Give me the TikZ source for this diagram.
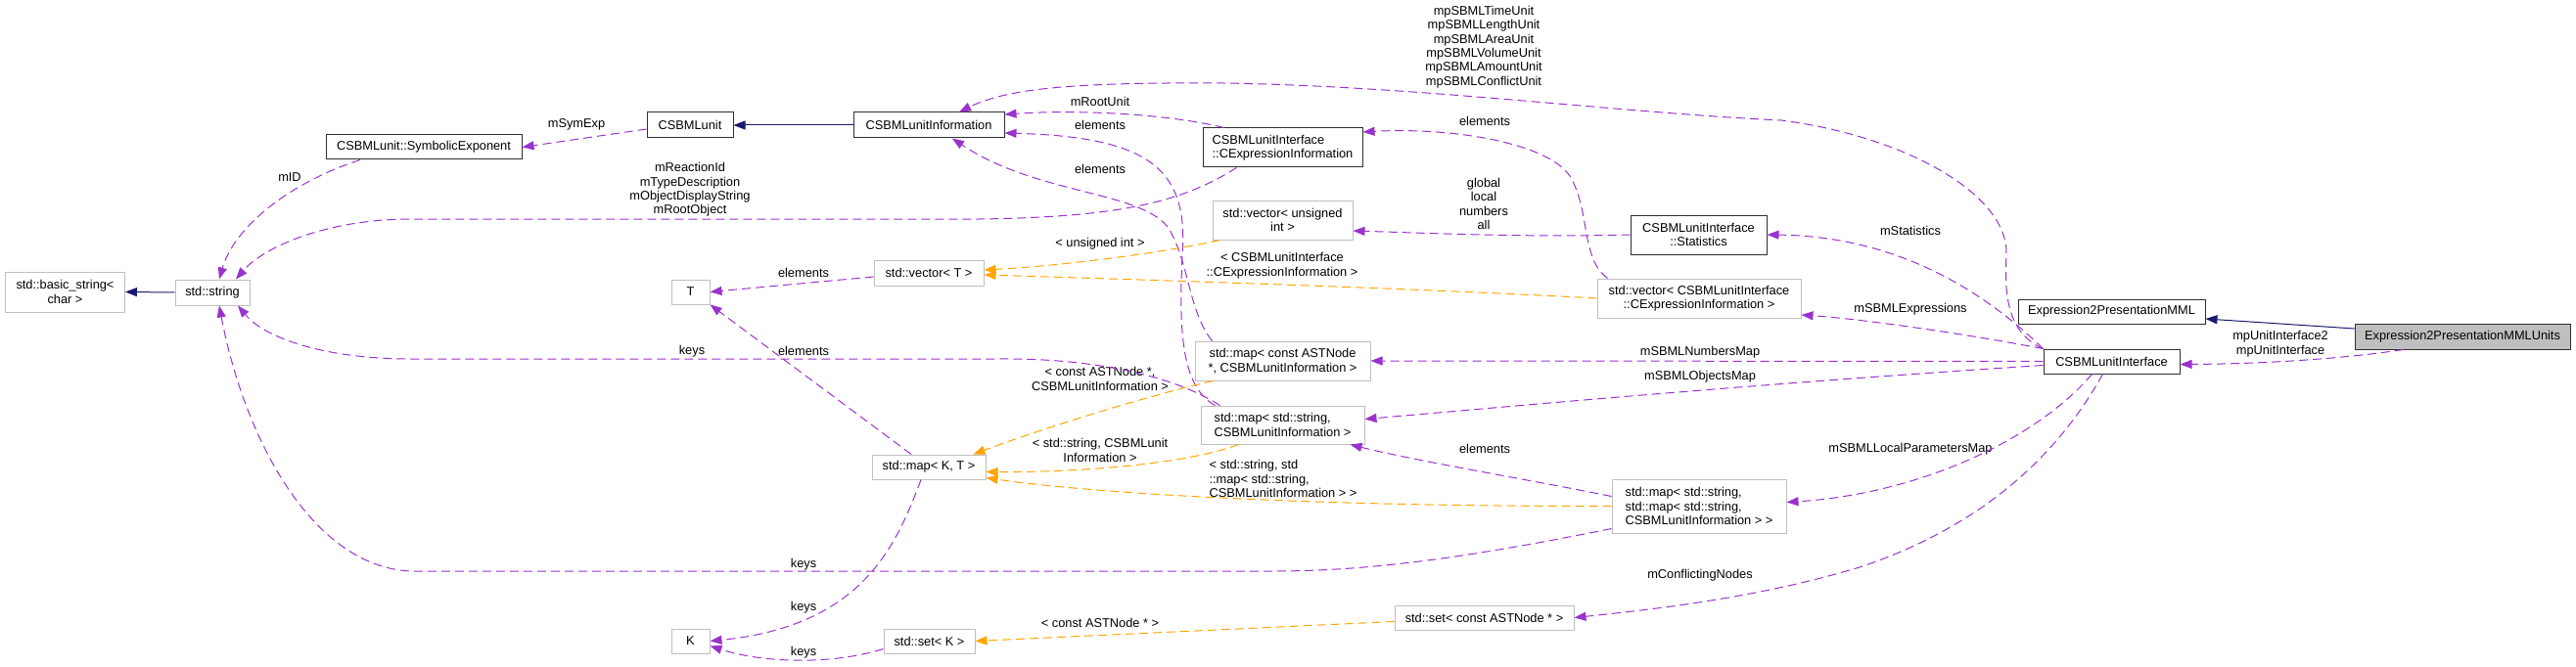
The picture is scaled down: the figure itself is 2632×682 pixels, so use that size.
\documentclass[tikz,border=0pt]{standalone}
\usepackage{fontspec}
\setmainfont{Liberation Sans}
\usepackage{tikz}
\usetikzlibrary{arrows.meta}
\usepackage{xcolor}

\definecolor{edgePurple}{HTML}{9A32CD}
\definecolor{edgeOrange}{HTML}{FFA500}
\definecolor{edgeNavy}{HTML}{191970}
\definecolor{boxGray}{HTML}{BFBFBF}
\definecolor{boxDark}{HTML}{303030}

\begin{document}
\begin{tikzpicture}[x=1pt,y=-1pt,
  myBox/.style={draw=boxDark, fill=white, line width=1pt, inner sep=0pt,
    font=\fontsize{12.8}{14.4}\selectfont, align=center},
  myTmpl/.style={myBox, draw=boxGray},
  myLabel/.style={inner sep=0pt, font=\fontsize{12.8}{14.4}\selectfont, align=center},
  myUses/.style={edgePurple, line width=1pt, dash pattern=on 9pt off 5pt,
    -{Triangle[length=12pt,width=9pt]}},
  myInst/.style={myUses, edgeOrange},
  myInherit/.style={edgeNavy, line width=1pt, -{Triangle[length=12pt,width=9pt]}}]

\useasboundingbox (0,0) rectangle (2632,682);

% classes
\node[myTmpl, minimum width=122, minimum height=41] (basicStr) at (66.5,298.5) {std::basic\_string<\\ char >};
\node[myTmpl, minimum width=76, minimum height=26] (stdStr) at (217,299) {std::string};
\node[myBox, minimum width=200, minimum height=25] (symExp) at (433,150.5) {CSBMLunit::SymbolicExponent};
\node[myBox, minimum width=88, minimum height=26] (cUnit) at (705,128) {CSBMLunit};
\node[myBox, minimum width=154, minimum height=26] (cUnitInfo) at (949,128) {CSBMLunitInformation};
\node[myBox, minimum width=163, minimum height=40, align=left] (exprInfo) at (1310.5,151) {CSBMLunitInterface\\::CExpressionInformation};
\node[myBox, minimum width=139, minimum height=40] (stats) at (1735.5,240) {CSBMLunitInterface\\::Statistics};
\node[myBox, minimum width=191, minimum height=25] (e2pMML) at (2157.5,318.5) {Expression2PresentationMML};
\node[myBox, minimum width=139, minimum height=25] (unitIface) at (2157.5,369.5) {CSBMLunitInterface};
\node[myBox, fill=boxGray, minimum width=220, minimum height=26] (e2pUnits) at (2516,344) {Expression2PresentationMMLUnits};

% templates
\node[myTmpl, minimum width=39, minimum height=25] (tT) at (705.5,298.5) {T};
\node[myTmpl, minimum width=39, minimum height=25] (kK) at (705.5,655.5) {K};
\node[myTmpl, minimum width=112, minimum height=26] (vecT) at (949,279) {std::vector< T >};
\node[myTmpl, minimum width=116, minimum height=25] (mapKT) at (949,477.5) {std::map< K, T >};
\node[myTmpl, minimum width=93, minimum height=25] (setK) at (949.5,655.5) {std::set< K >};
\node[myTmpl, minimum width=143, minimum height=40] (vecUint) at (1310.5,225) {std::vector< unsigned\\int >};
\node[myTmpl, minimum width=179, minimum height=40] (mapAst) at (1310.5,369) {std::map< const ASTNode\\*, CSBMLunitInformation >};
\node[myTmpl, minimum width=167, minimum height=39, align=left] (mapStr) at (1310.5,434.5) {std::map< std::string,\\ CSBMLunitInformation >};
\node[myTmpl, minimum width=183, minimum height=25] (setAst) at (1516.5,631.5) {std::set< const ASTNode * >};
\node[myTmpl, minimum width=208, minimum height=40] (vecExpr) at (1736,305) {std::vector< CSBMLunitInterface\\::CExpressionInformation >};
\node[myTmpl, minimum width=178, minimum height=55, align=left] (mapStrMap) at (1736,517.5) {std::map< std::string,\\ std::map< std::string,\\ CSBMLunitInformation > >};

% labels
\node[myLabel] (lSymExp) at (589,127) {mSymExp};
\node[myLabel] (lId) at (296,181) {mID};
\node[myLabel] (lReact) at (705,194) {mReactionId\\mTypeDescription\\mObjectDisplayString\\mRootObject};
\node[myLabel] (lRoot) at (1124,104) {mRootUnit};
\node[myLabel] (lUnits) at (1516,48) {mpSBMLTimeUnit\\mpSBMLLengthUnit\\mpSBMLAreaUnit\\mpSBMLVolumeUnit\\mpSBMLAmountUnit\\mpSBMLConflictUnit};
\node[myLabel] (lElemA) at (1124,128) {elements};
\node[myLabel] (lElemB) at (1124,173) {elements};
\node[myLabel] (lElemExpr) at (1517,124) {elements};
\node[myLabel] (lFlags) at (1516,208.5) {global\\local\\numbers\\all};
\node[myLabel] (lUint) at (1124,249) {< unsigned int >};
\node[myLabel] (lExprArg) at (1310,271.5) {< CSBMLunitInterface\\::CExpressionInformation >};
\node[myLabel] (lStats) at (1952,236) {mStatistics};
\node[myLabel] (lElemT) at (821,279) {elements};
\node[myLabel] (lKeysStr) at (707,359) {keys};
\node[myLabel] (lElemKT) at (821,359) {elements};
\node[myLabel] (lAstArg) at (1124,387.5) {< const ASTNode *,\\CSBMLunitInformation >};
\node[myLabel] (lStrArg) at (1124,460.5) {< std::string, CSBMLunit\\Information >};
\node[myLabel, align=left] (lStrMapArg) at (1311,489.5) {< std::string, std\\::map< std::string,\\CSBMLunitInformation > >};
\node[myLabel] (lElemMap) at (1517,459) {elements};
\node[myLabel] (lKeysBig) at (821,577) {keys};
\node[myLabel] (lKeysK) at (821,621) {keys};
\node[myLabel] (lKeysSet) at (821,667) {keys};
\node[myLabel] (lAstSet) at (1124,637) {< const ASTNode * >};
\node[myLabel] (lExprs) at (1952,316) {mSBMLExpressions};
\node[myLabel] (lNums) at (1737,360) {mSBMLNumbersMap};
\node[myLabel] (lObjs) at (1737,385) {mSBMLObjectsMap};
\node[myLabel] (lLocal) at (1952,459) {mSBMLLocalParametersMap};
\node[myLabel] (lConf) at (1737,588) {mConflictingNodes};
\node[myLabel] (lIface) at (2330,351.5) {mpUnitInterface2\\mpUnitInterface};

% inheritance
\draw[myInherit] (stdStr.west) -- (basicStr.east);
\draw[myInherit] (cUnitInfo.west) -- (cUnit.east);
\draw[myInherit] ([yshift=8pt]e2pUnits.west) -- ([yshift=-7.5pt]e2pMML.east);

% members
\draw[myUses] ([yshift=-4pt]cUnit.west) -- (symExp.east);
\draw[myUses] ([xshift=-65pt]symExp.south) .. controls (300,185) and (240,230) .. ([xshift=7pt]stdStr.north);
\draw[myUses] ([xshift=-47pt]exprInfo.south) .. controls (1210,205) and (1150,222) .. (1000,224) -- (420,224) .. controls (335,224) and (270,252) .. ([xshift=24pt]stdStr.north);
\draw[myUses] ([xshift=-60pt]exprInfo.north) .. controls (1190,116) and (1100,112) .. ([yshift=11pt]cUnitInfo.east);
\draw[myUses] (unitIface.north west) .. controls (2050,340) and (2048,300) .. (2050,260) .. controls (2052,200) and (1950,140) .. (1820,123) .. controls (1650,115) and (1450,88) .. (1250,85) .. controls (1100,84) and (1030,90) .. ([xshift=31pt]cUnitInfo.north);
\draw[myUses] ([xshift=11pt]vecExpr.north west) .. controls (1615,265) and (1625,215) .. (1604,180) .. controls (1580,145) and (1480,130) .. ([yshift=16pt]exprInfo.east);
\draw[myUses] (stats.west) .. controls (1560,243) and (1450,238) .. ([yshift=-11pt]vecUint.east);
\draw[myUses] (unitIface.north west) .. controls (1990,262) and (1890,241) .. (stats.east);
\draw[myUses] (unitIface.north west) .. controls (2000,340) and (1900,326) .. ([yshift=-17pt]vecExpr.east);
\draw[myUses] (unitIface.west) -- (mapAst.east);
\draw[myUses] ([yshift=-4pt]unitIface.west) .. controls (1800,392) and (1550,415) .. ([yshift=6pt]mapStr.east);
\draw[myUses] ([xshift=-20pt]unitIface.south) .. controls (2080,450) and (1960,505) .. ([yshift=4pt]mapStrMap.east);
\draw[myUses] ([xshift=-9pt]unitIface.south) .. controls (2100,470) and (2020,540) .. (1900,580) .. controls (1800,610) and (1700,622) .. (setAst.east);
\draw[myUses] ([xshift=50pt]e2pUnits.south west) .. controls (2400,366) and (2320,372) .. ([yshift=-3pt]unitIface.east);

% template members
\draw[myUses] ([yshift=-4pt]vecT.west) -- (tT.east);
\draw[myUses] ([xshift=-18pt]mapKT.north) -- (tT.south east);
\draw[myUses] ([xshift=-8pt]mapKT.south) .. controls (915,560) and (880,640) .. (kK.east);
\draw[myUses] ([yshift=-8pt]setK.west) .. controls (850,680) and (780,678) .. ([yshift=-5pt]kK.east);
\draw[myUses] ([xshift=20pt]mapStr.north west) .. controls (1200,385) and (1120,366) .. (1020,367) -- (420,367) .. controls (330,367) and (270,345) .. ([xshift=26pt]stdStr.south);
\draw[myUses] ([yshift=5pt]mapStrMap.south west) .. controls (1500,570) and (1400,584) .. (1300,584) -- (420,584) .. controls (320,580) and (250,450) .. ([xshift=7pt]stdStr.south);
\draw[myUses] ([xshift=15pt]mapStr.north west) .. controls (1205,395) and (1205,330) .. (1208,260) .. controls (1215,170) and (1170,140) .. ([yshift=-8pt]cUnitInfo.east);
\draw[myUses] ([xshift=18pt]mapAst.north west) .. controls (1215,320) and (1215,270) .. (1195,235) .. controls (1170,195) and (1060,200) .. ([xshift=24pt]cUnitInfo.south);
\draw[myUses] ([yshift=10pt]mapStrMap.west) .. controls (1560,490) and (1450,472) .. ([xshift=-15pt]mapStr.south east);

% instantiations
\draw[myInst] ([xshift=8pt]vecUint.south west) .. controls (1180,260) and (1080,272) .. ([yshift=3pt]vecT.east);
\draw[myInst] (vecExpr.west) .. controls (1450,295) and (1200,287) .. ([yshift=-2pt]vecT.east);
\draw[myInst] ([xshift=19pt]mapAst.south west) .. controls (1170,405) and (1060,440) .. ([xshift=-13pt]mapKT.north east);
\draw[myInst] ([xshift=39pt]mapStr.south west) .. controls (1210,475) and (1100,483) .. ([yshift=-5pt]mapKT.east);
\draw[myInst] (mapStrMap.west) .. controls (1350,518) and (1120,505) .. ([yshift=-11pt]mapKT.east);
\draw[myInst] ([yshift=-4pt]setAst.west) -- (setK.east);

\end{tikzpicture}
\end{document}
